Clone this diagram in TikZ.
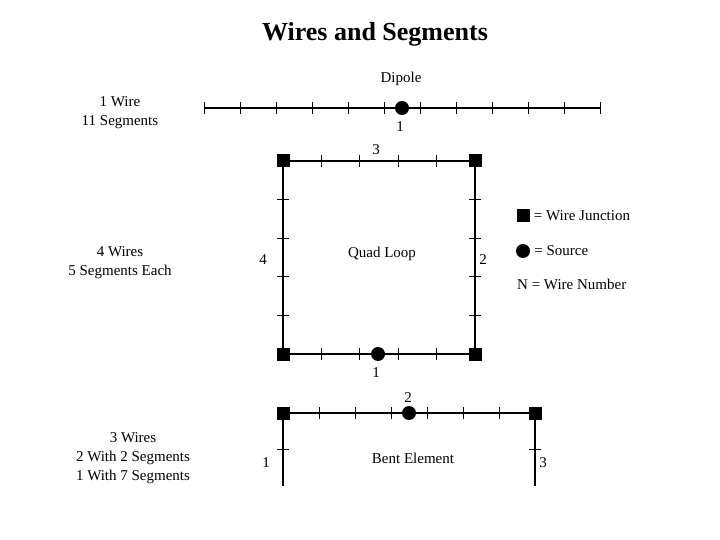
\documentclass[tikz,border=0pt]{standalone}
\usepackage{fontspec}
\setmainfont{Liberation Serif}
\usetikzlibrary{calc, positioning}
\begin{document}
\begin{tikzpicture}[x=1pt, y=-1pt, font=\fontsize{15}{19}\selectfont]
	\tikzstyle{wire} = [line width=2.6pt]
	\tikzstyle{tick} = [line width=1pt]
	\tikzstyle{junc} = [fill=black, rectangle, minimum size=13pt, inner sep=0pt]
	\tikzstyle{src} = [fill=black, circle, minimum size=14pt, inner sep=0pt]
	\tikzstyle{lbl} = [align=center, inner sep=0pt]
	\useasboundingbox (0,0) rectangle (720,540);

	\node[lbl] at (375,34) (title) {\fontsize{26}{30}\selectfont\bfseries Wires and Segments};

	% dipole
	\coordinate (d0) at (204,108);
	\coordinate (d1) at (600,108);
	\draw[wire] (d0) -- (d1);
	\foreach \i in {0,...,11} \draw[tick] (204+36*\i,102) -- (204+36*\i,114);
	\node[src] at (402,108) (dsrc) {};
	\node[lbl] at (401,79) (dname) {Dipole};
	\node[lbl] at (400,127) (dnum) {1};
	\node[lbl] at (120,113) (dtext) {1 Wire\\11 Segments};

	% quad loop
	\node[junc] at (283,161) (qa) {};
	\node[junc] at (475,161) (qb) {};
	\node[junc] at (475,354) (qc) {};
	\node[junc] at (283,354) (qd) {};
	\draw[wire] (qa.center) -- (qb.center) -- (qc.center) -- (qd.center) -- cycle;
	\foreach \i in {1,...,4} {
		\draw[tick] (283+38.4*\i,155) -- (283+38.4*\i,167);
		\draw[tick] (283+38.4*\i,348) -- (283+38.4*\i,360);
		\draw[tick] (277,161+38.6*\i) -- (289,161+38.6*\i);
		\draw[tick] (469,161+38.6*\i) -- (481,161+38.6*\i);
	}
	\node[src] at (378,354) (qsrc) {};
	\node[lbl] at (382,254) (qname) {Quad Loop};
	\node[lbl] at (376,150) (q3) {3};
	\node[lbl] at (263,260) (q4) {4};
	\node[lbl] at (483,260) (q2) {2};
	\node[lbl] at (376,373) (q1) {1};
	\node[lbl] at (120,263) (qtext) {4 Wires\\5 Segments Each};

	% legend
	\node[junc] at (523,216) (ljunc) {};
	\node[right=4pt of ljunc, lbl] (ljtext) {= Wire Junction};
	\node[src] at (523,251) (lsrc) {};
	\node[right=4pt of lsrc, lbl] (lstext) {= Source};
	\node[lbl, anchor=west] at (517,284) (lntext) {N = Wire Number};

	% bent element
	\node[junc] at (283,413) (ba) {};
	\node[junc] at (535,413) (bb) {};
	\coordinate (bc) at (283,486);
	\coordinate (bd) at (535,486);
	\draw[wire] (bc) -- (ba.center) -- (bb.center) -- (bd);
	\foreach \i in {1,...,6} \draw[tick] (283+36*\i,407) -- (283+36*\i,419);
	\draw[tick] (277,449) -- (289,449);
	\draw[tick] (529,449) -- (541,449);
	\node[src] at (409,413) (bsrc) {};
	\node[lbl] at (408,398) (b2) {2};
	\node[lbl] at (266,463) (b1) {1};
	\node[lbl] at (543,463) (b3) {3};
	\node[lbl] at (413,458) (bname) {Bent Element};
	\node[lbl] at (133,458) (btext) {3 Wires\\2 With 2 Segments\\1 With 7 Segments};
\end{tikzpicture}
\end{document}
